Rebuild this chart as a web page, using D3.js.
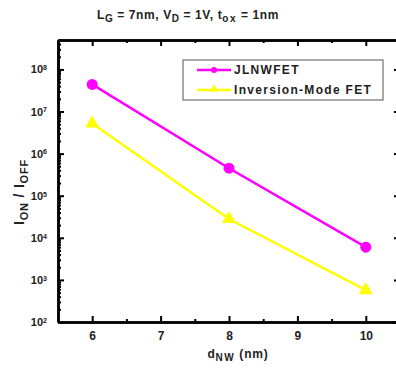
<!DOCTYPE html>
<html>
<head>
<meta charset="utf-8">
<script src="https://cdn.jsdelivr.net/npm/d3@7"></script>
<style>
  body { margin: 0; background: #fff; }
  svg { display: block; font-family: "Liberation Sans", Arial, sans-serif; font-weight: bold; }
</style>
</head>
<body>
<svg width="396" height="368"></svg>
<script>
var dnw = [6, 8, 10];
var jlnwfet = [4.4e7, 4.5e5, 6e3];
var inversion = [5.2e6, 2.8e4, 5.7e2];
var xTicks = [6, 7, 8, 9, 10];
var yTicks = [2, 3, 4, 5, 6, 7, 8];
var seriesNames = ["JLNWFET", "Inversion-Mode FET"];

var svg = d3.select("svg"),
    margin = {top: 40, left: 58},
    width = 342,
    height = 282,
    g = svg.append("g").attr("transform", "translate(" + margin.left + "," + margin.top + ")");

var x = d3.scaleLinear().domain([5.5, 10.5]).range([0, width]);
var y = d3.scaleLog().domain([1e2, 5e8]).range([height, 0]);

// minor log ticks
var minor = [];
for (var e = 2; e <= 8; e++) {
  for (var m = 2; m <= 9; m++) {
    if (m * Math.pow(10, e) <= 5e8) minor.push(m * Math.pow(10, e));
  }
}
var xMinor = [5.5, 6.5, 7.5, 8.5, 9.5, 10.5];

function styleAxis(sel) {
  sel.select(".domain").attr("stroke", "#000").attr("stroke-width", 2.5);
  sel.selectAll(".tick line").attr("stroke", "#000").attr("stroke-width", 2);
}

// bottom
g.append("g")
    .attr("transform", "translate(0," + height + ")")
    .call(d3.axisBottom(x).tickValues(xMinor).tickSize(-3).tickSizeOuter(0).tickFormat(""))
    .call(styleAxis);
var xAxis = g.append("g")
    .attr("transform", "translate(0," + height + ")")
    .call(d3.axisBottom(x).tickValues(xTicks).tickSizeInner(-6).tickSizeOuter(0).tickPadding(9).tickFormat(d3.format("d")))
    .call(styleAxis);
xAxis.selectAll("text").attr("font-size", 12).attr("fill", "#222").attr("font-family", "Liberation Sans, Arial, sans-serif").attr("font-weight", "bold");

// top
g.append("g")
    .call(d3.axisTop(x).tickValues(xMinor).tickSize(-3).tickSizeOuter(0).tickFormat(""))
    .call(styleAxis);
g.append("g")
    .call(d3.axisTop(x).tickValues(xTicks).tickSize(-6).tickSizeOuter(0).tickFormat(""))
    .call(styleAxis);

// left
g.append("g")
    .call(d3.axisLeft(y).tickValues(minor).tickSize(-3).tickSizeOuter(0).tickFormat(""))
    .call(styleAxis);
var yAxis = g.append("g")
    .call(d3.axisLeft(y).tickValues(yTicks.map(function(d) { return Math.pow(10, d); }))
      .tickSizeInner(-6).tickSizeOuter(0).tickPadding(11).tickFormat(""))
    .call(styleAxis);
yAxis.selectAll("text")
    .attr("font-size", 11).attr("fill", "#222")
    .attr("font-family", "Liberation Sans, Arial, sans-serif").attr("font-weight", "bold")
    .each(function(d) {
      var t = d3.select(this);
      t.text("10");
      t.append("tspan").attr("dy", "-0.45em").attr("font-size", 7).text(Math.round(Math.log10(d)));
    });

// right
g.append("g")
    .attr("transform", "translate(" + width + ",0)")
    .call(d3.axisRight(y).tickValues(minor).tickSize(-3).tickSizeOuter(0).tickFormat(""))
    .call(styleAxis);
g.append("g")
    .attr("transform", "translate(" + width + ",0)")
    .call(d3.axisRight(y).tickValues(yTicks.map(function(d) { return Math.pow(10, d); }))
      .tickSize(-6).tickSizeOuter(0).tickFormat(""))
    .call(styleAxis);

// lines
var line = d3.line()
    .x(function(d) { return x(d[0]); })
    .y(function(d) { return y(d[1]); });

var jl = dnw.map(function(d, i) { return [d, jlnwfet[i]]; });
var inv = dnw.map(function(d, i) { return [d, inversion[i]]; });

g.append("path").datum(inv).attr("d", line)
    .attr("fill", "none").attr("stroke", "#ffff00").attr("stroke-width", 2.5);
g.append("path").datum(jl).attr("d", line)
    .attr("fill", "none").attr("stroke", "#ff00ff").attr("stroke-width", 2.5);

var tri = d3.symbol().type(d3.symbolTriangle).size(85);
g.selectAll(".inv").data(inv).enter().append("path")
    .attr("transform", function(d) { return "translate(" + x(d[0]) + "," + y(d[1]) + ")"; })
    .attr("d", tri)
    .attr("fill", "#ffff00");
g.selectAll(".jl").data(jl).enter().append("circle")
    .attr("cx", function(d) { return x(d[0]); })
    .attr("cy", function(d) { return y(d[1]); })
    .attr("r", 5.5)
    .attr("fill", "#ff00ff");

// legend
var legend = svg.append("g").attr("transform", "translate(183,60)");
legend.append("rect")
    .attr("width", 200).attr("height", 40)
    .attr("fill", "#fff").attr("stroke", "#555").attr("stroke-width", 1);

var colors = ["#ff00ff", "#ffff00"];
var row = legend.selectAll(".row").data(seriesNames).enter().append("g")
    .attr("transform", function(d, i) { return "translate(0," + (10 + i * 20) + ")"; });
row.append("line")
    .attr("x1", 14).attr("x2", 48).attr("y1", 0).attr("y2", 0)
    .attr("stroke", function(d, i) { return colors[i]; }).attr("stroke-width", 2.5);
row.filter(function(d, i) { return i === 0; }).append("circle")
    .attr("cx", 31).attr("r", 3).attr("fill", "#ff00ff");
row.filter(function(d, i) { return i === 1; }).append("path")
    .attr("transform", "translate(31,-1)")
    .attr("d", d3.symbol().type(d3.symbolTriangle).size(30))
    .attr("fill", "#ffff00");
row.append("text")
    .attr("x", 51).attr("y", 0).attr("dy", "0.35em")
    .attr("font-size", 12).attr("letter-spacing", 1.3).attr("fill", "#222")
    .text(function(d) { return d; });

// title
var title = svg.append("text")
    .attr("x", 188).attr("y", 19)
    .attr("text-anchor", "middle").attr("font-size", 12).attr("letter-spacing", 0.6).attr("fill", "#222");
title.append("tspan").text("L");
title.append("tspan").attr("dy", 3).attr("font-size", 10).text("G");
title.append("tspan").attr("dy", -3).text(" = 7nm, V");
title.append("tspan").attr("dy", 3).attr("font-size", 10).text("D");
title.append("tspan").attr("dy", -3).text(" = 1V, t");
title.append("tspan").attr("dy", 3).attr("font-size", 10).attr("letter-spacing", 1.5).text("ox");
title.append("tspan").attr("dy", -3).text(" = 1nm");

// y label
var ylab = svg.append("text")
    .attr("transform", "translate(24,192) rotate(-90)")
    .attr("text-anchor", "middle").attr("font-size", 14).attr("letter-spacing", 0.8).attr("fill", "#222");
ylab.append("tspan").text("I");
ylab.append("tspan").attr("dy", 4).attr("font-size", 11).text("ON");
ylab.append("tspan").attr("dy", -4).text(" / I");
ylab.append("tspan").attr("dy", 4).attr("font-size", 11).text("OFF");

// x label
var xlab = svg.append("text")
    .attr("x", 238).attr("y", 358)
    .attr("text-anchor", "middle").attr("font-size", 12).attr("letter-spacing", 0.8).attr("fill", "#222");
xlab.append("tspan").text("d");
xlab.append("tspan").attr("dy", 3).attr("font-size", 10).attr("letter-spacing", 1.5).text("NW");
xlab.append("tspan").attr("dy", -3).text(" (nm)");
</script>
</body>
</html>
